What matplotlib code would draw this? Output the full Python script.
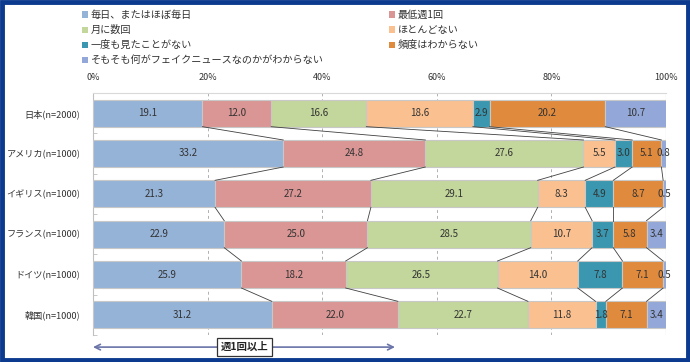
import matplotlib
matplotlib.use("Agg")
import matplotlib.pyplot as plt
from matplotlib.patches import Rectangle, Patch
from matplotlib.transforms import blended_transform_factory
import numpy as np

plt.rcParams['font.family'] = ['Noto Sans CJK JP', 'DejaVu Sans']

countries = ["日本(n=2000)", "アメリカ(n=1000)", "イギリス(n=1000)",
             "フランス(n=1000)", "ドイツ(n=1000)", "韓国(n=1000)"]
series_names = ["毎日、またはほぼ毎日", "最低週1回", "月に数回", "ほとんどない",
                "一度も見たことがない", "頻度はわからない",
                "そもそも何がフェイクニュースなのかがわからない"]
daily = [19.1, 33.2, 21.3, 22.9, 25.9, 31.2]
weekly = [12.0, 24.8, 27.2, 25.0, 18.2, 22.0]
monthly = [16.6, 27.6, 29.1, 28.5, 26.5, 22.7]
rarely = [18.6, 5.5, 8.3, 10.7, 14.0, 11.8]
never = [2.9, 3.0, 4.9, 3.7, 7.8, 1.8]
unknown_freq = [20.2, 5.1, 8.7, 5.8, 7.1, 7.1]
unknown_fake = [10.7, 0.8, 0.5, 3.4, 0.5, 3.4]
xticks = [0, 20, 40, 60, 80, 100]
xtick_labels = ["0%", "20%", "40%", "60%", "80%", "100%"]
arrow_end = 52.7
arrow_label = "週1回以上"

series = [daily, weekly, monthly, rarely, never, unknown_freq, unknown_fake]
colors = ['#95B3D7', '#D99694', '#C3D69B', '#FAC090', '#3A97AF', '#E08A3E', '#93A8D8']

fig = plt.figure(figsize=(6.9, 3.62), dpi=100)
ax = fig.add_axes([93/690, 1-335/362, (666-93)/690, (335-93)/362])

n = len(countries)
ypos = np.arange(n)
h = 0.67
left = np.zeros(n)
bounds = []
for vals, col in zip(series, colors):
    vals = np.array(vals)
    ax.barh(ypos, vals, left=left, height=h, color=col, edgecolor='#C8C8C8',
            linewidth=0.8, zorder=3)
    for i in range(n):
        ax.text(left[i] + vals[i]/2, ypos[i], f"{vals[i]:.1f}", ha='center',
                va='center', fontsize=7, color='#333333', zorder=5)
    left = left + vals
    bounds.append(left.copy())

# connector lines
for b in bounds[:-1]:
    for i in range(n-1):
        ax.plot([b[i], b[i+1]], [ypos[i] + h/2, ypos[i+1] - h/2],
                color='#404040', linewidth=0.6, zorder=4)

ax.set_xlim(0, 100)
ax.set_ylim(n - 0.5, -0.5)
ax.set_yticks(ypos)
ax.set_yticklabels(countries, fontsize=6.6, color='#333333')
ax.set_yticks(np.arange(n+1) - 0.5, minor=True)
ax.tick_params(axis='y', which='major', length=0, pad=9)
ax.tick_params(axis='y', which='minor', length=3, color='#BFBFBF', direction='in')
ax.set_xticks(xticks)
ax.set_xticklabels(xtick_labels, fontsize=6.5, color='#333333')
ax.xaxis.tick_top()
ax.tick_params(axis='x', length=0, pad=8)
for x in xticks[1:-1]:
    ax.axvline(x, color='#B0B0B0', linestyle=(0, (3, 3)), linewidth=0.7, zorder=1)
ax.axvline(100, color='#B0B0B0', linewidth=0.8, zorder=1)
for s in ['bottom', 'right']:
    ax.spines[s].set_visible(False)
ax.spines['left'].set_color('#BFBFBF')
ax.spines['top'].set_color('#D9D9D9')

# arrow annotation
trans = blended_transform_factory(ax.transData, ax.transAxes)
ax.annotate('', xy=(0, -0.05), xytext=(arrow_end, -0.05), xycoords=trans,
            textcoords=trans,
            arrowprops=dict(arrowstyle='<->', color='#6A74A8', lw=1.2,
                            shrinkA=0, shrinkB=0), annotation_clip=False)
ax.text(26.5, -0.05, arrow_label, transform=trans, ha='center', va='center',
        fontsize=7.5, fontweight='bold', color='#222222',
        bbox=dict(boxstyle='square,pad=0.35', facecolor='white',
                  edgecolor='#333333', linewidth=0.9), zorder=6, clip_on=False)

# legend (two columns)
handles = [Patch(facecolor=c, edgecolor='none') for c in colors]
left_idx = [0, 2, 4, 6]
right_idx = [1, 3, 5]
kw = dict(frameon=False, fontsize=7.3, handlelength=0.55, handleheight=0.55,
          handletextpad=0.3, labelspacing=0.5, borderaxespad=0,
          labelcolor='#333333')
leg1 = fig.legend([handles[i] for i in left_idx], [series_names[i] for i in left_idx],
                  loc='upper left', bbox_to_anchor=(78/690, 1-6/362), **kw)
leg2 = fig.legend([handles[i] for i in right_idx], [series_names[i] for i in right_idx],
                  loc='upper left', bbox_to_anchor=(385/690, 1-6/362), **kw)

# border
fig.patches.append(Rectangle((0.003, 0.005), 0.994, 0.99, transform=fig.transFigure,
                             fill=False, edgecolor='#0B3A8E', linewidth=3.5))

fig.savefig('out.png', dpi=100)
